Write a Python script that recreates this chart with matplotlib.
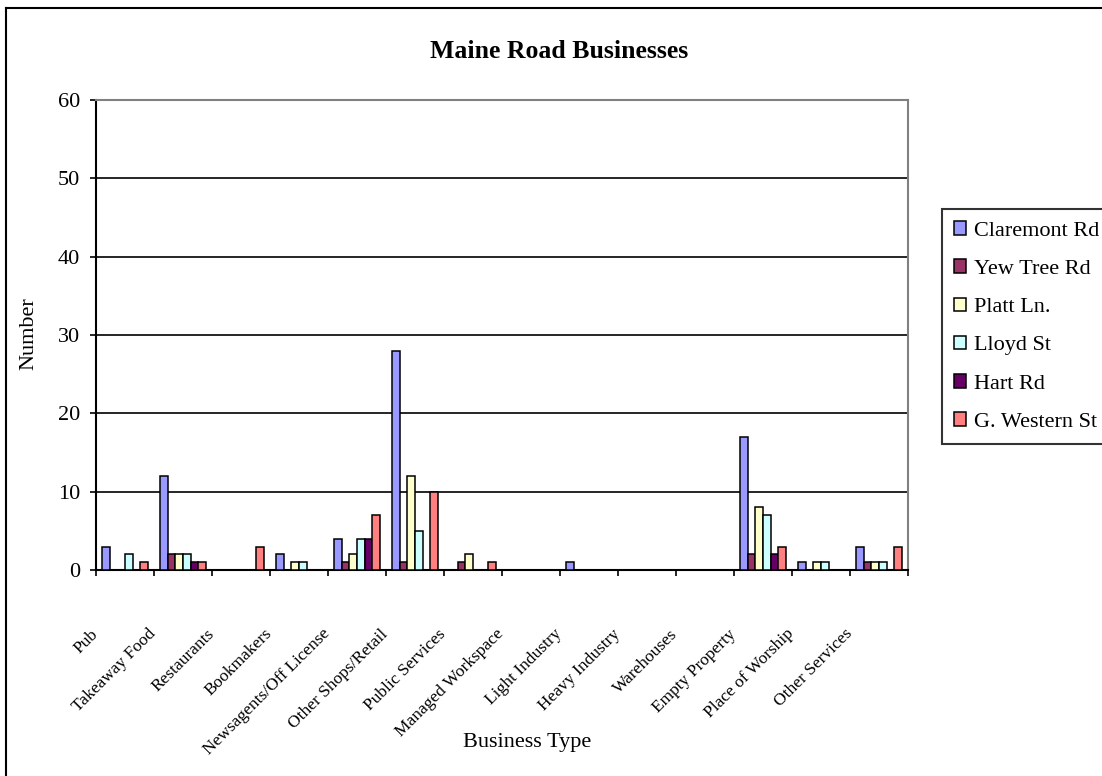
import matplotlib
matplotlib.use("Agg")
import matplotlib.pyplot as plt
import numpy as np
from matplotlib.lines import Line2D
from matplotlib.transforms import ScaledTranslation

categories = ["Pub", "Takeaway Food", "Restaurants", "Bookmakers",
              "Newsagents/Off License", "Other Shops/Retail", "Public Services",
              "Managed Workspace", "Light Industry", "Heavy Industry",
              "Warehouses", "Empty Property", "Place of Worship", "Other Services"]

series_names = ["Claremont Rd", "Yew Tree Rd", "Platt Ln.", "Lloyd St", "Hart Rd", "G. Western St"]

claremont = [3, 12, 0, 2, 4, 28, 0, 0, 1, 0, 0, 17, 1, 3]
yew_tree  = [0, 2, 0, 0, 1, 1, 1, 0, 0, 0, 0, 2, 0, 1]
platt     = [0, 2, 0, 1, 2, 12, 2, 0, 0, 0, 0, 8, 1, 1]
lloyd     = [2, 2, 0, 1, 4, 5, 0, 0, 0, 0, 0, 7, 1, 1]
hart      = [0, 1, 0, 0, 4, 0, 0, 0, 0, 0, 0, 2, 0, 0]
g_western = [1, 1, 3, 0, 7, 10, 1, 0, 0, 0, 0, 3, 0, 3]

series_values = [claremont, yew_tree, platt, lloyd, hart, g_western]
colors = ["#9999FF", "#993366", "#FFFFCC", "#CCFFFF", "#660066", "#FF8080"]

y_ticks = [0, 10, 20, 30, 40, 50, 60]

plt.rcParams['font.family'] = ['Liberation Serif', 'DejaVu Serif']

W, H = 1102, 776
fig = plt.figure(figsize=(W / 100, H / 100), dpi=100)
ax = fig.add_axes([96 / W, 1 - 570 / H, (908 - 96) / W, (570 - 100) / H])

n = len(categories)
x = np.arange(n)
bw = 0.13
for i, (name, vals, c) in enumerate(zip(series_names, series_values, colors)):
    ax.bar(x + (i - 2.5) * bw, vals, width=bw, color=c, edgecolor='black',
           linewidth=1.1, label=name, zorder=3)

ax.set_xlim(-0.5, n - 0.5)
ax.set_ylim(0, 60)
ax.set_yticks(y_ticks)
ax.set_yticklabels([str(v) for v in y_ticks], fontsize=16)
ax.tick_params(axis='y', direction='out', length=4.5, width=1.2, pad=7, color='black')
ax.yaxis.grid(True, color='black', linewidth=1.2, zorder=0)
ax.set_axisbelow(True)

ax.set_xticks(np.arange(n + 1) - 0.5)
ax.set_xticklabels([])
ax.tick_params(axis='x', direction='out', length=4, width=1.2, color='black')

for sp in ['left', 'bottom']:
    ax.spines[sp].set_color('black')
    ax.spines[sp].set_linewidth(1.5)
for sp in ['top', 'right']:
    ax.spines[sp].set_color('#808080')
    ax.spines[sp].set_linewidth(1.5)

off = ScaledTranslation(-35 / 100, -56 / 100, fig.dpi_scale_trans)
for i, lab in enumerate(categories):
    ax.text(i, 0, lab, transform=ax.get_xaxis_transform() + off,
            rotation=45, rotation_mode='anchor', ha='right', va='top',
            fontsize=12.5)

fig.text(559 / W, 1 - 52 / H, "Maine Road Businesses", ha='center', va='center',
         fontsize=18.5, fontweight='bold')
fig.text(29 / W, 1 - 334 / H, "Number", rotation=90, ha='center', va='center',
         fontsize=16)
fig.text(527 / W, 1 - 743 / H, "Business Type", ha='center', va='center', fontsize=16)

leg = fig.legend(loc='upper left', bbox_to_anchor=(942 / W, 1 - 209 / H),
                 bbox_transform=fig.transFigure, fontsize=16, frameon=True,
                 fancybox=False, handlelength=0.55, handleheight=0.55,
                 handletextpad=0.35, labelspacing=0.84, borderpad=0.55,
                 borderaxespad=0)
leg.get_frame().set_edgecolor('black')
leg.get_frame().set_linewidth(1.5)

fig.add_artist(Line2D([6 / W, 6 / W], [0, 1 - 8 / H], transform=fig.transFigure,
                      color='black', linewidth=1.5))
fig.add_artist(Line2D([6 / W, 1], [1 - 8 / H, 1 - 8 / H], transform=fig.transFigure,
                      color='black', linewidth=1.5))

fig.savefig("out.png", dpi=100)
